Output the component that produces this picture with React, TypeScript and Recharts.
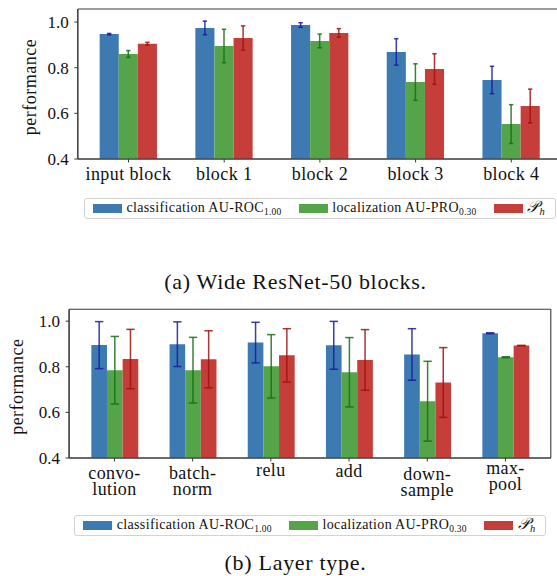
import React from 'react';
import { BarChart, Bar, XAxis, YAxis, ErrorBar, CartesianGrid, Legend, Label } from 'recharts';

// ---------- data: (a) Wide ResNet-50 blocks ----------
const blockCategories = ['input block', 'block 1', 'block 2', 'block 3', 'block 4'];
const blockClassification = [0.947, 0.974, 0.987, 0.869, 0.746];
const blockClassificationErr = [0.003, 0.03, 0.01, 0.058, 0.06];
const blockLocalization = [0.86, 0.895, 0.917, 0.737, 0.553];
const blockLocalizationErr = [0.015, 0.073, 0.03, 0.08, 0.085];
const blockPh = [0.905, 0.93, 0.952, 0.794, 0.632];
const blockPhErr = [0.006, 0.053, 0.019, 0.067, 0.074];

// ---------- data: (b) Layer type ----------
const layerCategories = ['convo-\nlution', 'batch-\nnorm', 'relu', 'add', 'down-\nsample', 'max-\npool'];
const layerClassification = [0.895, 0.899, 0.906, 0.894, 0.854, 0.947];
const layerClassificationErr = [0.103, 0.098, 0.089, 0.105, 0.113, 0.002];
const layerLocalization = [0.785, 0.785, 0.802, 0.776, 0.649, 0.842];
const layerLocalizationErr = [0.148, 0.144, 0.139, 0.152, 0.175, 0.002];
const layerPh = [0.834, 0.833, 0.85, 0.83, 0.731, 0.893];
const layerPhErr = [0.13, 0.125, 0.117, 0.133, 0.153, 0.001];

const yTicks = [0.4, 0.6, 0.8, 1.0];

const blockData = blockCategories.map((name, i) => ({
  name,
  cls: blockClassification[i],
  clsErr: blockClassificationErr[i],
  loc: blockLocalization[i],
  locErr: blockLocalizationErr[i],
  ph: blockPh[i],
  phErr: blockPhErr[i],
}));

const layerData = layerCategories.map((name, i) => ({
  name,
  cls: layerClassification[i],
  clsErr: layerClassificationErr[i],
  loc: layerLocalization[i],
  locErr: layerLocalizationErr[i],
  ph: layerPh[i],
  phErr: layerPhErr[i],
}));

// ---------- styles ----------
const SERIF = "'Liberation Serif', 'Times New Roman', serif";
const FRAME = '#3a3a3a';
const SERIES = [
  { key: 'cls', label: 'classification AU-ROC', sub: '1.00', fill: '#3e7ab2', err: '#1a1a9e' },
  { key: 'loc', label: 'localization AU-PRO', sub: '0.30', fill: '#56a44a', err: '#146e16' },
  { key: 'ph', label: '', sub: 'h', fill: '#c63e39', err: '#a00f0f' },
];

const tickShift: Record<string, number> = {
  relu: -3,
  add: -2.5,
  'down-\nsample': 1,
  'max-\npool': -5,
};

const XTick = (props: any) => {
  const { x, y, payload } = props;
  const value = String(payload.value);
  const lines = value.split('\n');
  const base = y + 17.5 + (tickShift[value] ?? 0);
  return (
    <text
      x={x}
      y={base}
      textAnchor="middle"
      fill="#111"
      style={{ fontFamily: SERIF, fontSize: 18, letterSpacing: 0.4 }}
    >
      {lines.map((l, i) => (
        <tspan key={i} x={x} y={base + i * 16}>
          {l}
        </tspan>
      ))}
    </text>
  );
};

const yLabel = (baselineX: number) => (props: any) => {
  const vb = props.viewBox || {};
  const cx = vb.x + baselineX;
  const cy = vb.y + vb.height / 2 + 3;
  return (
    <text
      x={cx}
      y={cy}
      transform={`rotate(-90, ${cx}, ${cy})`}
      textAnchor="middle"
      fill="#111"
      style={{ fontFamily: SERIF, fontSize: 18, letterSpacing: 0.5 }}
    >
      performance
    </text>
  );
};

const LegendBox = () => (
  <div
    style={{
      boxSizing: 'border-box',
      width: '100%',
      height: '100%',
      border: '1.8px solid #d2d2d2',
      borderRadius: 3,
      display: 'flex',
      alignItems: 'center',
      paddingLeft: 8.2,
      fontFamily: SERIF,
      fontSize: 14,
      letterSpacing: 0.35,
      color: '#111',
      background: '#fff',
      whiteSpace: 'nowrap',
    }}
  >
    {SERIES.map((s, i) => (
      <div key={s.key} style={{ display: 'flex', alignItems: 'center', marginLeft: i ? 17.6 : 0 }}>
        <span style={{ display: 'inline-block', width: 28.6, height: 9, background: s.fill }} />
        <span style={{ marginLeft: 4.6, lineHeight: '16px' }}>
          {s.label ? (
            s.label
          ) : (
            <span style={{ fontStyle: 'italic', fontSize: 16, fontFamily: "'DejaVu Serif', 'DejaVu Sans', serif" }}>
              {'\u{1D4AB}'}
            </span>
          )}
          <span
            style={{
              fontSize: s.label ? 9.5 : 10.5,
              fontStyle: s.label ? 'normal' : 'italic',
              position: 'relative',
              top: 3,
              letterSpacing: 0.2,
            }}
          >
            {s.sub}
          </span>
        </span>
      </div>
    ))}
  </div>
);

const frameH = ({ offset }: any) => [offset.top, offset.top + offset.height];
const frameV = ({ offset }: any) => [offset.left, offset.left + offset.width];

type PanelProps = {
  data: any[];
  width: number;
  height: number;
  margin: { top: number; right: number; left: number; bottom: number };
  yAxisWidth: number;
  xAxisHeight: number;
  padding: number;
  barSize: number;
  capHalf: number;
  yMax: number;
  legendPos: { left: number; top: number; width: number; height: number };
  labelX: number;
};

const Panel = (p: PanelProps) => (
  <BarChart
    width={p.width}
    height={p.height}
    data={p.data}
    margin={p.margin}
    barGap={0}
    barSize={p.barSize}
  >
    <CartesianGrid
      stroke={FRAME}
      strokeWidth={1.1}
      fill="none"
      horizontalCoordinatesGenerator={frameH}
      verticalCoordinatesGenerator={frameV}
    />
    <XAxis
      dataKey="name"
      interval={0}
      padding={{ left: p.padding, right: p.padding }}
      height={p.xAxisHeight}
      tickSize={3.5}
      tickMargin={0}
      axisLine={{ stroke: FRAME, strokeWidth: 1.1 }}
      tickLine={{ stroke: FRAME, strokeWidth: 1 }}
      tick={<XTick />}
    />
    <YAxis
      width={p.yAxisWidth}
      domain={[0.4, p.yMax]}
      allowDataOverflow
      ticks={yTicks}
      tickSize={3.5}
      tickMargin={5.6}
      tickFormatter={(v: number) => v.toFixed(1)}
      axisLine={{ stroke: FRAME, strokeWidth: 1.1 }}
      tickLine={{ stroke: FRAME, strokeWidth: 1 }}
      tick={{ fontFamily: SERIF, fontSize: 17, fill: '#111' }}
    >
      <Label content={yLabel(p.labelX)} />
    </YAxis>
    {SERIES.map((s) => (
      <Bar key={s.key} dataKey={s.key} fill={s.fill} fillOpacity={1} isAnimationActive={false}>
        <ErrorBar
          dataKey={`${s.key}Err`}
          width={p.capHalf}
          stroke={s.err}
          strokeWidth={1.5}
          strokeOpacity={0.85}
          direction="y"
        />
      </Bar>
    ))}
    <Legend
      layout="horizontal"
      verticalAlign="middle"
      align="center"
      content={() => <LegendBox />}
      wrapperStyle={{ ...p.legendPos }}
    />
  </BarChart>
);

const Caption = ({ text, top }: { text: string; top: number }) => (
  <svg width={557} height={34} style={{ position: 'absolute', left: 0, top, display: 'block' }}>
    <text
      x={295.5}
      y={26}
      textAnchor="middle"
      fill="#111"
      style={{ fontFamily: SERIF, fontSize: 22, letterSpacing: 0.7 }}
    >
      {text}
    </text>
  </svg>
);

export default function App() {
  return (
    <div
      style={{
        position: 'absolute',
        left: 0,
        top: 0,
        width: 557,
        height: 576,
        overflow: 'hidden',
        background: '#fff',
      }}
    >
      <div style={{ position: 'absolute', left: 0, top: 0 }}>
        <Panel
          data={blockData}
          width={562}
          height={225}
          margin={{ top: 9, right: 0, left: 0, bottom: 35 }}
          yAxisWidth={77.8}
          xAxisHeight={31}
          padding={2.85}
          barSize={19.1}
          capHalf={2.2}
          yMax={1.057}
          legendPos={{ left: 84, top: 197.7, width: 472, height: 21.3 }}
          labelX={36}
        />
      </div>
      <Caption text="(a) Wide ResNet-50 blocks." top={263} />
      <div style={{ position: 'absolute', left: 0, top: 300 }}>
        <Panel
          data={layerData}
          width={552}
          height={240}
          margin={{ top: 9.3, right: 1.2, left: 0, bottom: 37 }}
          yAxisWidth={69.1}
          xAxisHeight={45}
          padding={6.25}
          barSize={15.64}
          capHalf={4.2}
          yMax={1.052}
          legendPos={{ left: 74.3, top: 214.5, width: 472, height: 21.3 }}
          labelX={23.5}
        />
      </div>
      <Caption text="(b) Layer type." top={544} />
    </div>
  );
}
